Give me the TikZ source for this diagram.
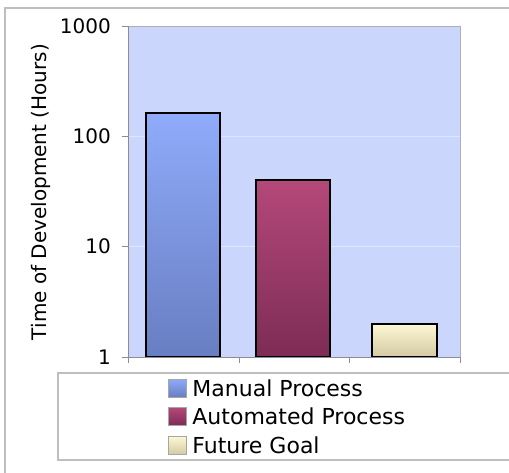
\documentclass[tikz,border=0pt]{standalone}
\usepackage{fontspec}
\setmainfont{DejaVu Sans}
\usetikzlibrary{positioning}
\definecolor{plotbg}{RGB}{202, 214, 252}
\definecolor{gridc}{RGB}{222, 230, 255}
\definecolor{framec}{RGB}{190, 190, 190}
\definecolor{axisc}{RGB}{140, 140, 150}
\definecolor{manualTop}{RGB}{143, 171, 250}
\definecolor{manualBot}{RGB}{104, 126, 194}
\definecolor{autoTop}{RGB}{180, 72, 121}
\definecolor{autoBot}{RGB}{125, 44, 86}
\definecolor{goalTop}{RGB}{252, 247, 212}
\definecolor{goalBot}{RGB}{212, 202, 162}
\newcommand{\logpos}[1]{357-110.3*log10(#1)}

\begin{document}
\begin{tikzpicture}[x=1pt, y=-1pt, font=\fontsize{20}{24}\selectfont,
  bar/.style={draw=black, line width=1.7pt},
  keybox/.style={draw=gray!70, line width=0.5pt, minimum size=18pt, inner sep=0pt},
  keytext/.style={right=6pt of #1, inner sep=0pt, font=\fontsize{22}{26}\selectfont}]
  \useasboundingbox (0,0) rectangle (509,473);
  % Outer frame
  \draw[framec, line width=1.5pt] (5,473) -- (5,8) -- (509,8);

  % Plot area
  \fill[plotbg] (128,26) rectangle (460,357);
  \foreach \v in {10,100} \draw[gridc, line width=0.8pt] (128,{\logpos{\v}}) -- (460,{\logpos{\v}});
  \draw[axisc!70, line width=0.6pt] (128,26) -- (460,26) -- (460,357);

  % Bars
  \shade[bar, top color=manualTop, bottom color=manualBot] (146,{\logpos{162}}) rectangle (220,357);
  \shade[bar, top color=autoTop, bottom color=autoBot] (256,{\logpos{40}}) rectangle (330,357);
  \shade[bar, top color=goalTop, bottom color=goalBot] (372,{\logpos{2}}) rectangle (437,357);

  % Axes and ticks
  \draw[axisc, line width=0.8pt] (128,26) -- (128,357) -- (460,357);
  \foreach \v in {1,10,100,1000} {
    \draw[axisc, line width=0.8pt] (122,{\logpos{\v}}) -- (128,{\logpos{\v}});
    \node[anchor=east, inner sep=0pt] (tick\v) at (111,{\logpos{\v}}) {\v};
  }
  \foreach \x in {128,239,349,460} \draw[axisc, line width=0.8pt] (\x,357) -- (\x,363);
  \node[rotate=90, inner sep=0pt] (ytitle) at (41,192) {Time of Development (Hours)};

  % Legend
  \draw[framec, line width=1.5pt] (509,373) -- (58,373) -- (58,460) -- (509,460);
  \node[keybox, top color=manualTop, bottom color=manualBot] (manualkey) at (177,388) {};
  \node[keybox, top color=autoTop, bottom color=autoBot] (autokey) at (177,416.5) {};
  \node[keybox, top color=goalTop, bottom color=goalBot] (goalkey) at (177,445.5) {};
  \node[keytext=manualkey] (manuallabel) {Manual Process};
  \node[keytext=autokey] (autolabel) {Automated Process};
  \node[keytext=goalkey] (goallabel) {Future Goal};
\end{tikzpicture}
\end{document}
